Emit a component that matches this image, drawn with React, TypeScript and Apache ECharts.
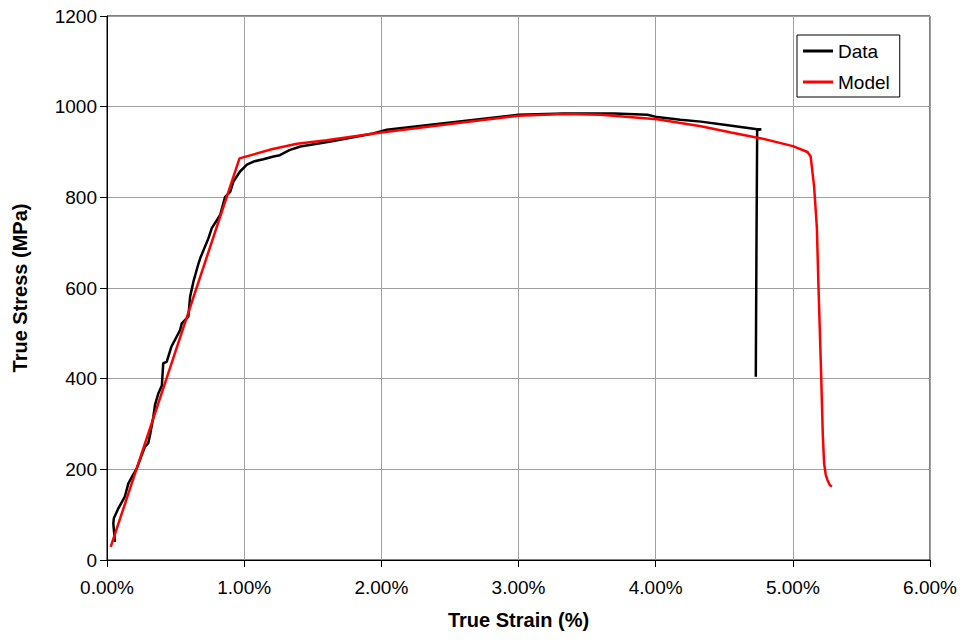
import React, { useEffect, useRef } from "react";
import * as echarts from "echarts";

// True strain (%) / true stress (MPa) — measured data
const dataStrain = [0.058, 0.046, 0.05, 0.083, 0.13, 0.156, 0.19, 0.217, 0.24, 0.277, 0.3, 0.314, 0.338, 0.35, 0.375, 0.4, 0.41, 0.435, 0.47, 0.533, 0.545, 0.593, 0.606, 0.63, 0.667, 0.68, 0.74, 0.764, 0.825, 0.861, 0.898, 0.922, 0.97, 1.02, 1.068, 1.14, 1.214, 1.26, 1.33, 1.41, 1.63, 1.94, 2.04, 2.36, 3.0, 3.33, 3.7, 3.94, 4.01, 4.18, 4.33, 4.5, 4.74, 4.77, 4.74, 4.735, 4.73];
const dataStress = [40, 81, 92, 114, 140, 169, 188, 202, 221, 250, 257, 276, 316, 342, 368, 385, 434, 437, 471, 507, 522, 537, 581, 614, 654, 666, 710, 732, 761, 801, 812, 835, 857, 872, 879, 884, 890, 893, 904, 912, 923, 941, 949, 960, 982, 985, 985, 982, 977, 971, 967, 960, 950, 950, 948, 700, 404];

// Model curve
const modelStrain = [0.027, 0.966, 1.2, 1.385, 1.6, 2.0, 2.5, 3.0, 3.33, 3.6, 4.01, 4.33, 4.55, 4.77, 5.0, 5.107, 5.13, 5.155, 5.175, 5.187, 5.204, 5.219, 5.228, 5.24, 5.253, 5.27, 5.285];
const modelStress = [29, 886, 906, 918, 926, 943, 962, 980, 984, 982, 972, 957, 943, 930, 913, 900, 890, 824, 735, 603, 434, 272, 213, 188, 176, 165, 162];

const xTicks = [0, 1, 2, 3, 4, 5, 6];
const yTicks = [0, 200, 400, 600, 800, 1000, 1200];

const FONT = "'Liberation Sans', Arial, Helvetica, sans-serif";

export default function App() {
  const ref = useRef<HTMLDivElement>(null);
  useEffect(() => {
    if (!ref.current) return;
    const chart = echarts.init(ref.current, undefined, { renderer: "svg" });
    const dataPts = dataStrain.map((x, i) => [x, dataStress[i]]);
    const modelPts = modelStrain.map((x, i) => [x, modelStress[i]]);
    chart.setOption({
      animation: false,
      backgroundColor: "#fff",
      textStyle: { fontFamily: FONT },
      grid: {
        left: 107,
        right: 36,
        top: 16,
        bottom: 84,
        show: true,
        borderColor: "#000",
        borderWidth: 1,
        backgroundColor: "transparent",
      },
      legend: {
        orient: "vertical",
        left: 797,
        top: 35,
        padding: [6, 10, 5, 6],
        backgroundColor: "#fff",
        borderColor: "#000",
        borderWidth: 1,
        borderRadius: 0,
        itemWidth: 30,
        itemHeight: 3,
        itemGap: 11,
        icon: "rect",
        textStyle: { fontFamily: FONT, fontSize: 19, color: "#000", lineHeight: 20 },
        data: ["Data", "Model"],
      },
      xAxis: {
        type: "value",
        min: xTicks[0],
        max: xTicks[xTicks.length - 1],
        interval: 1,
        name: "True Strain (%)",
        nameLocation: "middle",
        nameGap: 50,
        nameTextStyle: { fontFamily: FONT, fontSize: 20, fontWeight: "bold", color: "#000" },
        axisLine: { show: true, lineStyle: { color: "#000", width: 1 } },
        axisTick: { show: true, inside: false, length: 7, lineStyle: { color: "#000" } },
        axisLabel: {
          margin: 18,
          fontFamily: FONT,
          fontSize: 19,
          color: "#000",
          formatter: (v: number) => v.toFixed(2) + "%",
        },
        splitLine: { show: true, lineStyle: { color: "#a0a0a0", width: 1 } },
      },
      yAxis: {
        type: "value",
        min: yTicks[0],
        max: yTicks[yTicks.length - 1],
        interval: 200,
        name: "True Stress (MPa)",
        nameLocation: "middle",
        nameGap: 77,
        nameRotate: 90,
        nameTextStyle: { fontFamily: FONT, fontSize: 20, fontWeight: "bold", color: "#000" },
        axisLine: { show: true, lineStyle: { color: "#000", width: 1 } },
        axisTick: { show: true, inside: false, length: 7, lineStyle: { color: "#000" } },
        axisLabel: {
          margin: 10,
          fontFamily: FONT,
          fontSize: 19,
          color: "#000",
          formatter: (v: number) => String(v),
        },
        splitLine: { show: true, lineStyle: { color: "#a0a0a0", width: 1 } },
      },
      series: [
        {
          name: "Data",
          type: "line",
          data: dataPts,
          showSymbol: false,
          symbol: "none",
          color: "#000",
          lineStyle: { color: "#000", width: 2.5 },
          z: 2,
        },
        {
          name: "Model",
          type: "line",
          data: modelPts,
          showSymbol: false,
          symbol: "none",
          color: "#ff0000",
          lineStyle: { color: "#ff0000", width: 2.5 },
          z: 3,
        },
      ],
    });
    return () => chart.dispose();
  }, []);
  return (
    <div
      ref={ref}
      style={{ position: "fixed", left: 0, top: 0, width: 966, height: 644, background: "#fff" }}
    />
  );
}
